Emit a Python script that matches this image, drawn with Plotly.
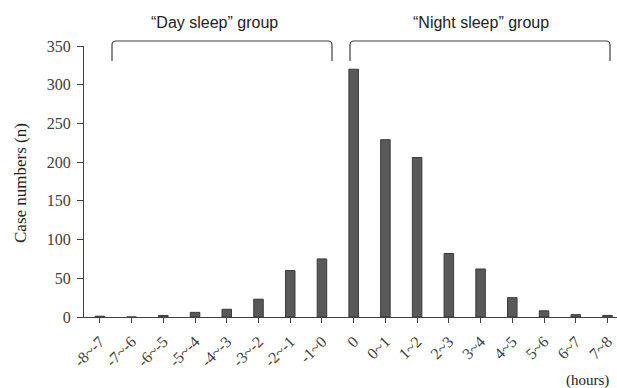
import plotly.graph_objects as go

categories = ["-8~-7", "-7~-6", "-6~-5", "-5~-4", "-4~-3", "-3~-2", "-2~-1", "-1~0",
              "0", "0~1", "1~2", "2~3", "3~4", "4~5", "5~6", "6~7", "7~8"]
cases = [1, 0, 2, 6, 10, 23, 60, 75, 320, 229, 206, 82, 62, 25, 8, 3, 2]
y_ticks = [0, 50, 100, 150, 200, 250, 300, 350]

serif = "Liberation Serif, Times New Roman, serif"
sans = "Liberation Sans, Arial, sans-serif"

fig = go.Figure(go.Bar(
    x=list(range(len(categories))), y=cases, width=0.3,
    marker=dict(color="#595959", line=dict(color="#3a3a3a", width=1)),
))

L, T, B = 84, 46, 71
W, H = 617, 388
pw = W - L
ph = H - T - B

fig.update_layout(
    width=W, height=H, margin=dict(l=L, r=0, t=T, b=B, autoexpand=False),
    paper_bgcolor="white", plot_bgcolor="white", showlegend=False,
    xaxis=dict(range=[-0.5, 16.3], tickmode="array", tickvals=list(range(len(categories))),
               ticktext=categories, tickangle=-45, ticks="outside", ticklen=5,
               tickcolor="#404040", showline=True, linecolor="#404040", linewidth=1,
               showgrid=False, zeroline=False, automargin=False, ticklabelstandoff=3,
               tickfont=dict(family=serif, size=16, color="#404040")),
    yaxis=dict(range=[0, 350], tickvals=y_ticks, ticks="outside", ticklen=6,
               tickcolor="#404040", showline=True, linecolor="#404040", linewidth=1,
               showgrid=False, zeroline=False, automargin=False, ticklabelstandoff=3,
               tickfont=dict(family=serif, size=16, color="#404040")),
)

def px_x(px):
    return (px - L) / pw

def px_y(py):
    return (H - B - py) / ph

def bracket(x0, x1, ytop, ybot, r=4):
    X0, X1 = px_x(x0), px_x(x1)
    Yt, Yb = px_y(ytop), px_y(ybot)
    dx = r / pw
    dy = r / ph
    return (f"M {X0},{Yb} L {X0},{Yt - dy} Q {X0},{Yt} {X0 + dx},{Yt} "
            f"L {X1 - dx},{Yt} Q {X1},{Yt} {X1},{Yt - dy} L {X1},{Yb}")

for (a, b) in [(112, 332), (350, 610)]:
    fig.add_shape(type="path", xref="paper", yref="paper",
                  path=bracket(a, b, 41, 61), line=dict(color="#404040", width=1.2))

def label(text, x, y, family, size, angle=0):
    fig.add_annotation(x=px_x(x), y=px_y(y), xref="paper", yref="paper", showarrow=False,
                       xanchor="center", yanchor="middle", textangle=angle,
                       text=text, font=dict(family=family, size=size, color="#222"))

label("\u201cDay sleep\u201d group", 214, 22, sans, 16)
label("\u201cNight sleep\u201d group", 481, 22, sans, 16)
label("(hours)", 587, 380, serif, 15)
label("Case numbers (n)", 20, 183, serif, 17, angle=-90)

fig.write_html("out.html", config={"displayModeBar": False},
               post_script="document.body.style.margin='0';document.body.style.overflow='hidden';")
